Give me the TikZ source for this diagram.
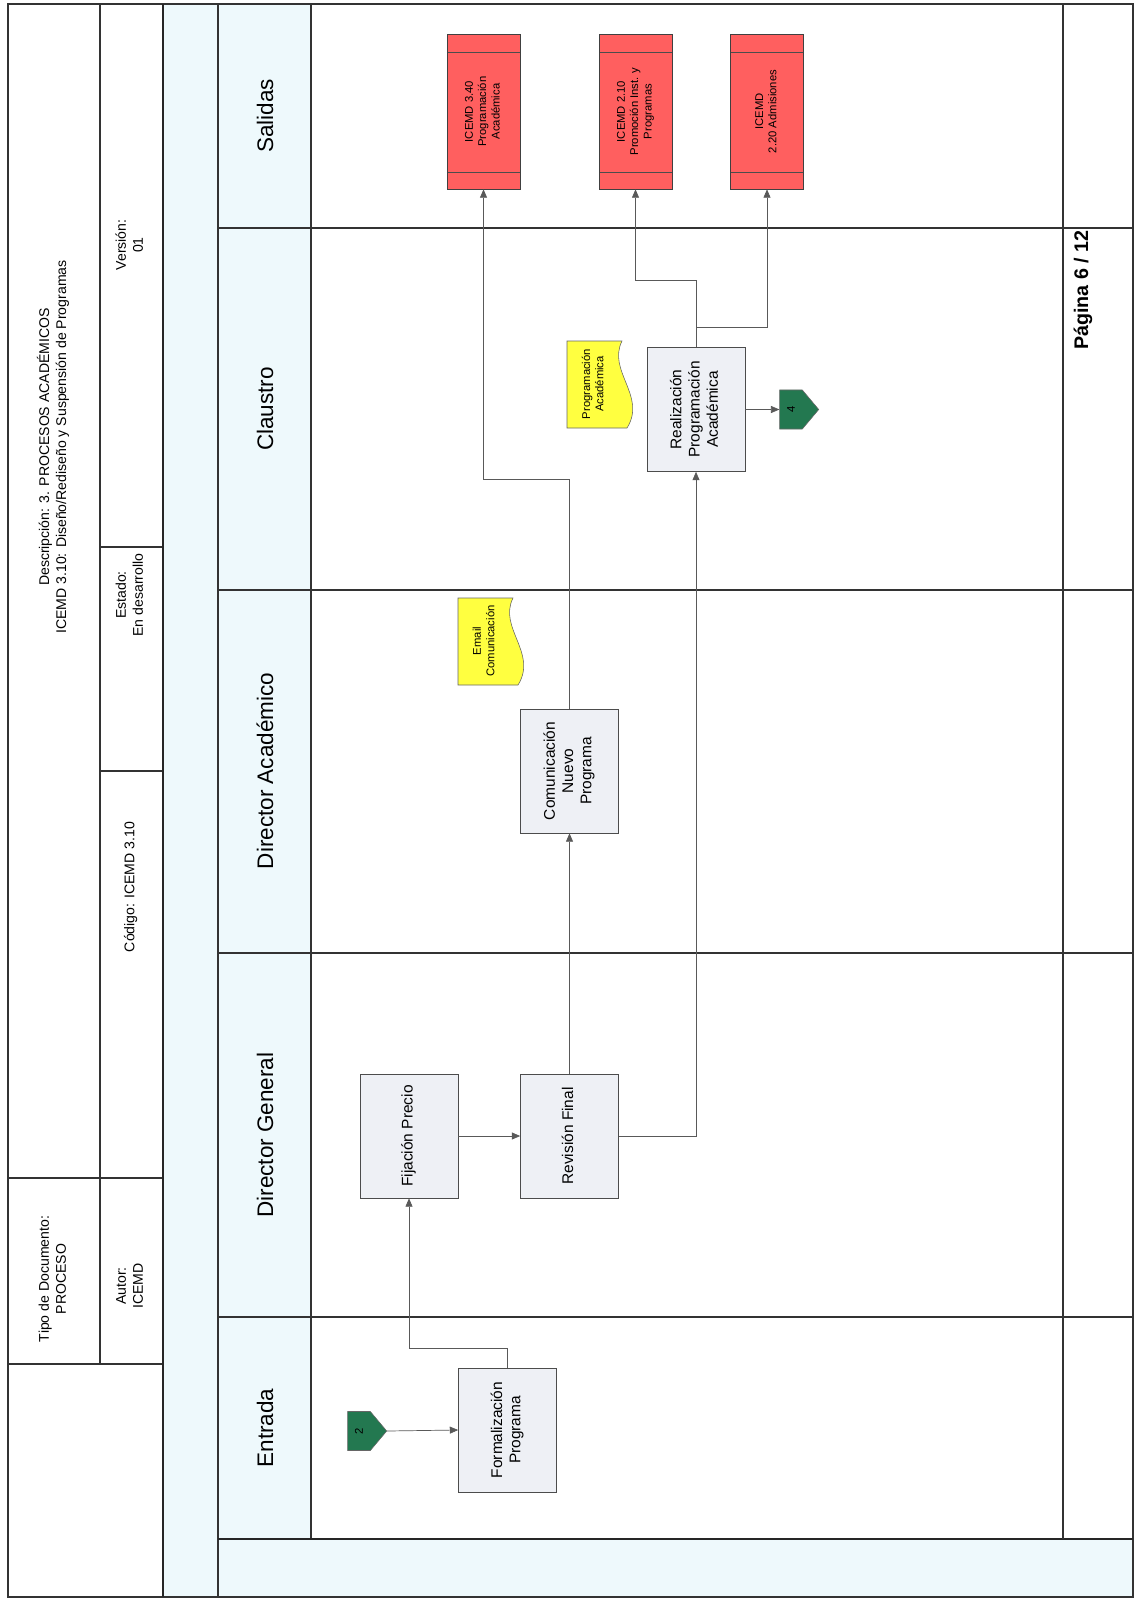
\documentclass[tikz,border=0pt]{standalone}
\usepackage{fontspec}
\setmainfont{Liberation Sans}
\usepackage{graphicx}
\usetikzlibrary{arrows.meta,shapes.symbols}
\definecolor{bandblue}{RGB}{238,249,252}
\definecolor{procfill}{RGB}{238,240,245}
\definecolor{outred}{RGB}{255,95,95}
\definecolor{noteyel}{RGB}{255,255,64}
\definecolor{pgreen}{RGB}{35,120,80}
\newcommand{\vlines}[1]{\rotatebox{90}{\begin{tabular}{@{}c@{}}#1\end{tabular}}}
\tikzset{
  frame/.style={draw=black!80,line width=0.8pt},
  thickframe/.style={draw=black!85,line width=1.3pt},
  conn/.style={draw=black!65,line width=0.5pt},
  lane/.style={font=\fontsize{16}{19}\selectfont},
  hdr/.style={font=\fontsize{10}{12}\selectfont},
  proc/.style={draw=black!70,fill=procfill,minimum width=2.45cm,minimum height=3.1cm,inner sep=0pt,font=\fontsize{11}{13}\selectfont},
  outbox/.style={draw=black!75,fill=outred,minimum width=1.825cm,minimum height=3.875cm,inner sep=0pt,font=\fontsize{8}{9.5}\selectfont,
    path picture={\draw[black!70] ([yshift=-0.45cm]path picture bounding box.north west) -- ([yshift=-0.45cm]path picture bounding box.north east)
      ([yshift=0.43cm]path picture bounding box.south west) -- ([yshift=0.43cm]path picture bounding box.south east);}},
  notefill/.style={draw=black!60,fill=noteyel,line width=0.4pt},
  notetext/.style={inner sep=0pt,font=\fontsize{8}{9.5}\selectfont},
  offpage/.style={shape=signal,signal to=east,signal pointer angle=100,draw=black!60,fill=pgreen,minimum width=0.975cm,minimum height=0.975cm,inner sep=0pt,font=\fontsize{8}{9}\selectfont}
}
\begin{document}
\begin{tikzpicture}[x=0.025cm,y=-0.025cm,>={Stealth[length=6pt,width=5pt,inset=0pt]}]
  \useasboundingbox (0,0) rectangle (1140,1602);
  % bands
  \fill[bandblue] (163,4) rectangle (218,1597);
  \fill[bandblue] (218,4) rectangle (311,1539);
  \fill[bandblue] (218,1539) rectangle (1133,1597);
  % header and frame
  \draw[frame] (8,4) rectangle (1133,1597);
  \draw[frame] (100,4) -- (100,1364);
  \draw[frame] (100,547) -- (163,547) (100,771) -- (163,771);
  \draw[frame] (8,1178) -- (163,1178) (8,1364) -- (163,1364);
  \draw[thickframe] (163,4) -- (163,1597);
  \draw[frame] (218,4) -- (218,1597);
  \draw[frame] (311,4) -- (311,1539);
  \foreach \y in {228,590,953,1317}
    \draw[frame] (218,\y) -- (1133,\y);
  \draw[thickframe] (218,1539) -- (1133,1539);
  \draw[frame] (1063,4) -- (1063,1539);

  \node[hdr] (desc) at (54,447) {\vlines{Descripción: 3. PROCESOS ACADÉMICOS\\ICEMD 3.10: Diseño/Rediseño y Suspensión de Programas}};
  \node[hdr] (tipo) at (54,1279) {\vlines{Tipo de Documento:\\PROCESO}};
  \node[hdr] (vers) at (131,245) {\vlines{Versión:\\01}};
  \node[hdr] (esta) at (131,595) {\vlines{Estado:\\En desarrollo}};
  \node[hdr] (codi) at (131,887) {\vlines{Código: ICEMD 3.10}};
  \node[hdr] (auto) at (131,1286) {\vlines{Autor:\\ICEMD}};
  \node[font=\fontsize{14}{16}\selectfont\bfseries] (pag) at (1083,290) {\rotatebox{90}{Página 6 / 12}};

  % lanes
  \foreach \y/\t/\n in {116/Salidas/lsal,409/Claustro/lcla,771/Director Académico/ldac,1135/Director General/ldge,1428/Entrada/lent}
    \node[lane] (\n) at (265,\y) {\rotatebox{90}{\t}};

  % documents
  \foreach \x/\y in {458/598,567/341}{
    \begin{scope}[shift={(\x,\y)}]
      \filldraw[notefill] (0,0) -- (55,0) .. controls (40,30) and (80,55) .. (60,87) -- (0,87) -- cycle;
    \end{scope}
  }
  \node[notetext] (email) at (485,641) {\vlines{Email\\Comunicación}};
  \node[notetext] (nprog) at (594,384) {\vlines{Programación\\Académica}};

  % steps
  \node[offpage] (in2) at (359,1431) {\rotatebox{90}{2}};
  \node[proc] (form) at (507.5,1430) {\vlines{Formalización\\Programa}};
  \node[proc] (fija) at (409,1136) {\vlines{Fijación Precio}};
  \node[proc] (revi) at (569.5,1136) {\vlines{Revisión Final}};
  \node[proc] (comu) at (569.5,771) {\vlines{Comunicación\\Nuevo\\Programa}};
  \node[proc] (real) at (696,409.5) {\vlines{Realización\\Programación\\Académica}};
  \node[offpage] (out4) at (791,409.5) {\rotatebox{90}{4}};

  \node[outbox] (o340) at (483.5,111.5) {\vlines{ICEMD 3.40\\Programación\\Académica}};
  \node[outbox] (o210) at (635.5,111.5) {\vlines{ICEMD 2.10\\Promoción Inst. y\\Programas}};
  \node[outbox] (o220) at (767,111.5) {\vlines{ICEMD\\2.20 Admisiones}};

  % flow
  \draw[->,conn] (in2.east) -- (form.west);
  \draw[->,conn] (form.north) -- ++(0,-19) -| (fija.south);
  \draw[->,conn] (fija.east) -- (revi.west);
  \draw[->,conn] (revi.north) -- (comu.south);
  \draw[->,conn] (revi.east) -| (real.south);
  \draw[->,conn] (comu.north) -- ++(0,-229) -| (o340.south);
  \draw[->,conn] (real.east) -- (out4.west);
  \draw[->,conn] (real.north) -- ++(0,-67) -| (o210.south);
  \draw[->,conn] ([yshift=0.5cm]real.north) -| (o220.south);
\end{tikzpicture}
\end{document}
